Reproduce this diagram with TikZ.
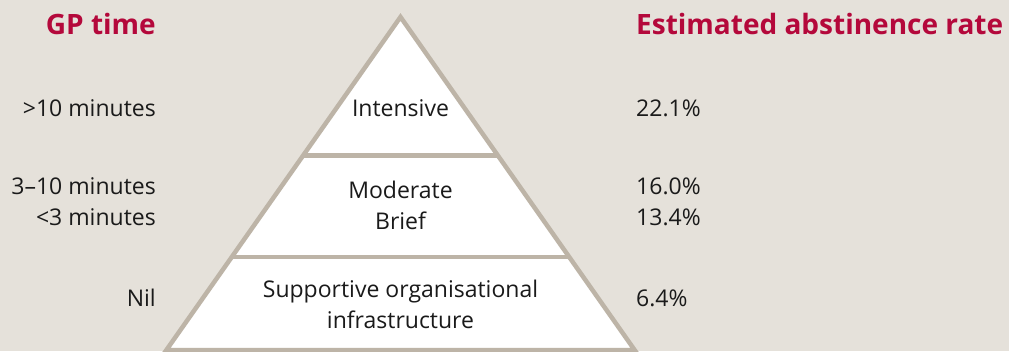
\documentclass[tikz,border=0pt]{standalone}
\usepackage{fontspec}
\setmainfont{Open Sans}
\usetikzlibrary{calc}
\definecolor{bg}{HTML}{E5E1DA}
\definecolor{edge}{HTML}{BDB4A7}
\definecolor{crimson}{HTML}{B4083B}
\definecolor{ink}{HTML}{1A1A1A}
\begin{document}
\begin{tikzpicture}[x=1pt,y=-1pt,
  lbl/.style={text=ink,font=\fontsize{23}{31}\selectfont,inner sep=0pt,align=center},
  lft/.style={lbl,anchor=east},
  rgt/.style={lbl,anchor=west},
  ttl/.style={text=crimson,font=\fontsize{28}{32}\selectfont\bfseries,inner sep=0pt}]
\fill[bg] (0,0) rectangle (1009,351);
\useasboundingbox (0,0) rectangle (1009,351);
\coordinate (A) at (400.5,17);
\coordinate (BL) at (166.4,350);
\coordinate (BR) at (634.6,350);
\filldraw[fill=white,draw=edge,line width=4.5pt,line join=miter] (A) -- (BL) -- (BR) -- cycle;
\coordinate (L1) at ($(A)!0.416!(BL)$);
\coordinate (R1) at ($(A)!0.416!(BR)$);
\coordinate (L2) at ($(A)!0.72!(BL)$);
\coordinate (R2) at ($(A)!0.72!(BR)$);
\draw[edge,line width=4.5pt] (L1) -- (R1);
\draw[edge,line width=4.5pt] (L2) -- (R2);
\node[lbl] (int) at (400.5,108) {Intensive};
\node[lbl] (mod) at (400.5,205) {Moderate\\Brief};
\node[lbl] (sup) at (400.5,304) {Supportive organisational\\infrastructure};
\node[ttl,anchor=east] (gp) at (156,24) {GP time};
\node[ttl,anchor=west] (est) at (636,24) {Estimated abstinence rate};
\node[lft] (t1) at (156,108) {>10 minutes};
\node[lft] (t2) at (156,186) {3–10 minutes};
\node[lft] (t3) at (156,217) {<3 minutes};
\node[lft] (t4) at (156,298) {Nil};
\node[rgt] (r1) at (636,108) {22.1\%};
\node[rgt] (r2) at (636,186) {16.0\%};
\node[rgt] (r3) at (636,217) {13.4\%};
\node[rgt] (r4) at (636,298) {6.4\%};
\end{tikzpicture}
\end{document}
